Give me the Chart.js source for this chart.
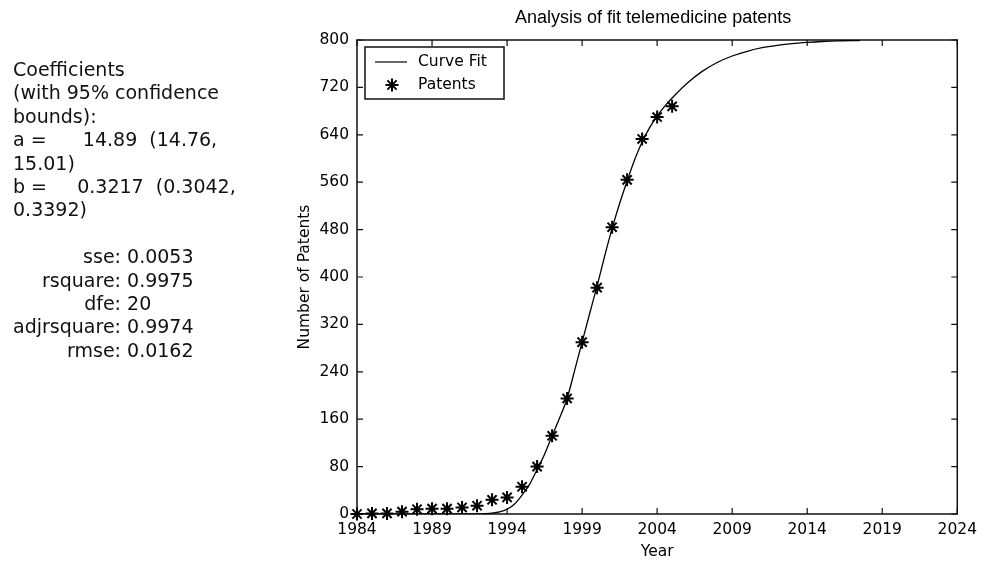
<!DOCTYPE html>
<html>
<head>
<meta charset="utf-8">
<script src="https://cdn.jsdelivr.net/npm/chart.js@4.4.1/dist/chart.umd.min.js"></script>
<style>
  body { margin: 0; background: #fff; }
  #wrap { position: relative; width: 984px; height: 562px; }
  #stats { position: absolute; left: 13px; top: 58px; font: 19px "DejaVu Sans", sans-serif; line-height: 23.4px; color: #111; white-space: pre; }
  #stats .lbl { display: inline-block; width: 108px; text-align: right; }
</style>
</head>
<body>
<div id="wrap">
  <canvas id="myChart" width="984" height="562"></canvas>
  <div id="stats"><div>Coefficients</div><div>(with 95% confidence</div><div>bounds):</div><div>a =      14.89  (14.76,</div><div>15.01)</div><div>b =     0.3217  (0.3042,</div><div>0.3392)</div><div> </div><div><span class="lbl">sse:</span> 0.0053</div><div><span class="lbl">rsquare:</span> 0.9975</div><div><span class="lbl">dfe:</span> 20</div><div><span class="lbl">adjrsquare:</span> 0.9974</div><div><span class="lbl">rmse:</span> 0.0162</div></div>
</div>
<script>
// patents per year
var patentYears = [1984, 1985, 1986, 1987, 1988, 1989, 1990, 1991, 1992, 1993, 1994, 1995, 1996, 1997, 1998, 1999, 2000, 2001, 2002, 2003, 2004, 2005];
var patentCounts = [0, 1, 1, 4, 8, 9, 9, 11, 14, 24, 28, 46, 80, 132, 195, 290, 382, 484, 564, 633, 670, 688];

// fitted curve
var curveYears = [1984, 1986, 1988, 1990, 1991, 1992, 1993, 1993.5, 1994, 1994.5, 1995, 1995.5, 1996, 1996.5, 1997, 1997.5, 1998, 1998.5, 1999, 1999.5, 2000, 2000.5, 2001, 2001.5, 2002, 2002.5, 2003, 2003.5, 2004, 2004.5, 2005, 2006, 2007, 2008, 2009, 2010, 2011, 2012, 2013, 2014, 2015, 2016, 2017, 2017.5];
var curveValues = [0, 0, 0, 0, 0, 0.2, 1.5, 3.5, 8, 17, 32, 50, 75, 101, 132, 162, 195, 242, 290, 338, 385, 435, 482, 524, 562, 598, 628, 652, 672, 688, 702, 727, 747, 762, 773, 781, 787, 791, 794, 796, 797.5, 798.5, 799, 799];

var xTicks = [1984, 1989, 1994, 1999, 2004, 2009, 2014, 2019, 2024];
var yTicks = [0, 80, 160, 240, 320, 400, 480, 560, 640, 720, 800];

var FONT = '"DejaVu Sans", sans-serif';

function toPoints(xs, ys) {
    return xs.map(function (x, i) { return { x: x, y: ys[i] }; });
}

var framePlugin = {
    id: 'frame',
    beforeDatasetsDraw: function (chart) {
        var ctx = chart.ctx, a = chart.chartArea;
        var xs = chart.scales.x, ys = chart.scales.y;
        ctx.save();
        ctx.strokeStyle = '#111';
        ctx.lineWidth = 1.5;
        ctx.strokeRect(a.left, a.top, a.right - a.left, a.bottom - a.top);
        ctx.lineWidth = 1.2;
        ctx.beginPath();
        xTicks.forEach(function (t) {
            var px = xs.getPixelForValue(t);
            ctx.moveTo(px, a.bottom); ctx.lineTo(px, a.bottom - 6);
            ctx.moveTo(px, a.top); ctx.lineTo(px, a.top + 6);
        });
        yTicks.forEach(function (t) {
            var py = ys.getPixelForValue(t);
            ctx.moveTo(a.left, py); ctx.lineTo(a.left + 6, py);
            ctx.moveTo(a.right, py); ctx.lineTo(a.right - 6, py);
        });
        ctx.stroke();
        ctx.restore();
    },
    afterDraw: function (chart) {
        var ctx = chart.ctx, a = chart.chartArea;
        ctx.save();
        ctx.fillStyle = '#000';
        // title
        ctx.font = '18px "Liberation Sans", sans-serif';
        ctx.textAlign = 'center';
        ctx.textBaseline = 'middle';
        ctx.fillText('Analysis of fit telemedicine patents', (a.left + a.right) / 2 - 4, 18);
        // axis titles
        ctx.font = '15.5px ' + FONT;
        ctx.fillText('Year', (a.left + a.right) / 2, 552);
        ctx.translate(305, (a.top + a.bottom) / 2);
        ctx.rotate(-Math.PI / 2);
        ctx.fillText('Number of Patents', 0, 0);
        ctx.restore();

        // legend
        var ds = chart.data.datasets;
        var bx = a.left + 8, by = a.top + 7, bw = 139, bh = 52;
        ctx.save();
        ctx.fillStyle = '#fff';
        ctx.fillRect(bx, by, bw, bh);
        ctx.strokeStyle = '#111';
        ctx.lineWidth = 1.5;
        ctx.strokeRect(bx, by, bw, bh);
        ctx.strokeStyle = '#000';
        ctx.lineWidth = 1.2;
        ctx.beginPath();
        ctx.moveTo(bx + 10, by + 15);
        ctx.lineTo(bx + 42, by + 15);
        ctx.stroke();
        ctx.lineWidth = 2;
        Chart.helpers.drawPoint(ctx, { pointStyle: 'star', radius: 6.5, rotation: 0, borderWidth: 2 }, bx + 27, by + 38);
        ctx.fillStyle = '#000';
        ctx.font = '15.5px ' + FONT;
        ctx.textAlign = 'left';
        ctx.textBaseline = 'middle';
        ctx.fillText(ds[0].label, bx + 53, by + 15);
        ctx.fillText(ds[1].label, bx + 53, by + 38);
        ctx.restore();
    }
};

var ctx = document.getElementById('myChart').getContext('2d');
var chart = new Chart(ctx, {
    type: 'line',
    data: {
        datasets: [{
            label: 'Curve Fit',
            data: toPoints(curveYears, curveValues),
            borderColor: '#000',
            borderWidth: 1.3,
            pointRadius: 0,
            cubicInterpolationMode: 'monotone',
            fill: false
        }, {
            label: 'Patents',
            data: toPoints(patentYears, patentCounts),
            showLine: false,
            pointStyle: 'star',
            pointRadius: 6.5,
            pointBorderWidth: 2,
            pointBorderColor: '#000',
            pointBackgroundColor: '#000',
            clip: false
        }]
    },
    options: {
        responsive: false,
        animation: false,
        events: [],
        layout: { padding: { left: 300, right: 21, top: 40, bottom: 0 } },
        plugins: { legend: { display: false }, title: { display: false }, tooltip: { enabled: false } },
        scales: {
            x: {
                type: 'linear',
                min: 1984,
                max: 2024,
                afterFit: function (s) { s.height = 48; },
                afterBuildTicks: function (s) { s.ticks = xTicks.map(function (v) { return { value: v }; }); },
                grid: { display: false, drawTicks: false },
                border: { display: false },
                ticks: { padding: 7, color: '#000', font: { family: FONT, size: 15.5 }, maxRotation: 0, callback: function (v) { return String(v); } }
            },
            y: {
                min: 0,
                max: 800,
                afterFit: function (s) { s.width = 57; },
                afterBuildTicks: function (s) { s.ticks = yTicks.map(function (v) { return { value: v }; }); },
                grid: { display: false, drawTicks: false },
                border: { display: false },
                ticks: { padding: 8, color: '#000', font: { family: FONT, size: 15.5 } }
            }
        }
    },
    plugins: [framePlugin]
});
</script>
</body>
</html>
